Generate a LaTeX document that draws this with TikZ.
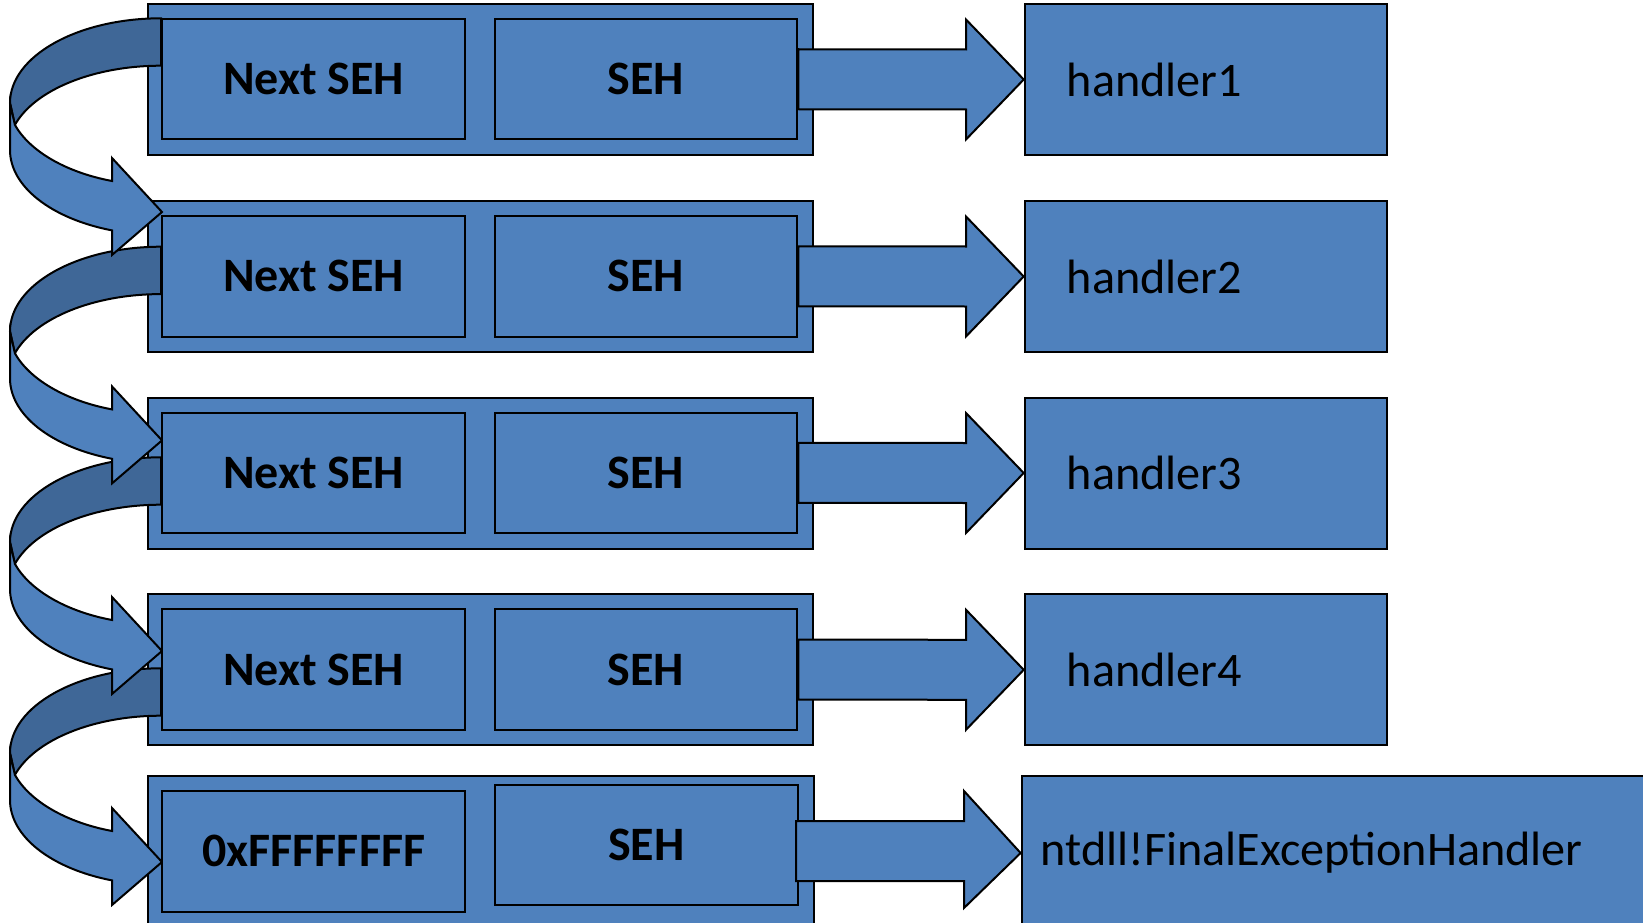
\documentclass[tikz,border=0pt]{standalone}
\usepackage{fontspec}
\setmainfont{Carlito}
\usetikzlibrary{calc}
\definecolor{sehblue}{RGB}{79,129,189}
\definecolor{sehdark}{RGB}{63,103,151}
\tikzset{
  box/.style={draw=black, line width=2pt, fill=sehblue, inner sep=0pt, anchor=north west},
  lbl/.style={font=\fontsize{48}{56}\selectfont\bfseries},
  hlbl/.style={font=\fontsize{48.2}{56}\selectfont, align=left},
  blk/.style={draw=black, line width=2pt, fill=sehblue, line join=miter},
  dk/.style={draw=black, line width=2pt, fill=sehdark},
  curvarrow/.pic={
    \filldraw[dk] (161,18.3) .. controls (77.6,18.3) and (10,56.1) .. (10,103)
      -- (14.9,124.9) .. controls (34.8,89.6) and (93.9,65.7) .. (161,65.7) -- cycle;
    \filldraw[blk] (10,103) -- (10,150) .. controls (10,186.3) and (51,218.6) .. (112,230.4)
      -- (112,255) -- (162,212) -- (112,158) -- (112,181)
      .. controls (65.6,172.3) and (29.5,150.9) .. (14.9,124.9) -- cycle;
  }
}
\begin{document}
\begin{tikzpicture}[x=1pt,y=-1pt]
\useasboundingbox (0,0) rectangle (1643,923);
\clip (0,0) rectangle (1643,923);
% outer frames
\node[box, minimum width=665.3, minimum height=151] (o1) at (146.7,3) {};
\node[box, minimum width=665.3, minimum height=151] (o2) at (146.7,200) {};
\node[box, minimum width=665.3, minimum height=151] (o3) at (146.7,396.5) {};
\node[box, minimum width=665.3, minimum height=151] (o4) at (146.7,593.3) {};
\node[box, minimum width=666.4, minimum height=170] (o5) at (146.7,775) {};
% curved next-pointer arrows
\pic at (0,650) {curvarrow};
\pic at (0,439) {curvarrow};
\pic at (0,228.4) {curvarrow};
\pic at (0,0) {curvarrow};
% inner fields
\node[box, lbl, minimum width=302.8, minimum height=120.5] (n1) at (161.4,18) {Next SEH};
\node[box, lbl, minimum width=302.8, minimum height=120.5] (s1) at (493.5,18) {SEH};
\node[box, lbl, minimum width=302.8, minimum height=120.5] (n2) at (161.4,215) {Next SEH};
\node[box, lbl, minimum width=302.8, minimum height=120.5] (s2) at (493.5,215) {SEH};
\node[box, lbl, minimum width=302.8, minimum height=120.5] (n3) at (161.4,411.5) {Next SEH};
\node[box, lbl, minimum width=302.8, minimum height=120.5] (s3) at (493.5,411.5) {SEH};
\node[box, lbl, minimum width=302.8, minimum height=120.5] (n4) at (161.4,608.3) {Next SEH};
\node[box, lbl, minimum width=302.8, minimum height=120.5] (s4) at (493.5,608.3) {SEH};
\node[box, lbl, minimum width=302.8, minimum height=120.5] (n5) at (161.4,790) {0xFFFFFFFF};
\node[box, lbl, minimum width=303.9, minimum height=120] (s5) at (493.5,784) {SEH};
% handlers
\node[box, hlbl, text width=278.5, inner xsep=42, minimum height=151] (h1) at (1023.7,3) {handler1};
\node[box, hlbl, text width=278.5, inner xsep=42, minimum height=151] (h2) at (1023.7,200) {handler2};
\node[box, hlbl, text width=278.5, inner xsep=42, minimum height=151] (h3) at (1023.7,396.5) {handler3};
\node[box, hlbl, text width=278.5, inner xsep=42, minimum height=151] (h4) at (1023.7,593.3) {handler4};
\node[box, hlbl, text width=662, inner xsep=19, minimum height=154] (h5) at (1020.6,775) {ntdll!FinalExceptionHandler};
% block arrows SEH -> handler
\foreach \i in {1,2,3,4}{
  \draw[blk] ($(s\i.east)+(0,-30)$) -- ($(h\i.west)+(-57.7,-30)$) -- ($(h\i.west)+(-57.7,-60)$)
    -- (h\i.west) -- ($(h\i.west)+(-57.7,60)$) -- ($(h\i.west)+(-57.7,30)$)
    -- ($(s\i.east)+(0,30)$) -- cycle;
}
\draw[blk] ($(s5.east |- h5.west)+(-3.4,-32)$) -- ($(h5.west)+(-56.6,-32)$) -- ($(h5.west)+(-56.6,-62)$)
    -- (h5.west) -- ($(h5.west)+(-56.6,55)$) -- ($(h5.west)+(-56.6,28)$)
    -- ($(s5.east |- h5.west)+(-3.4,28)$) -- cycle;
\end{tikzpicture}
\end{document}
